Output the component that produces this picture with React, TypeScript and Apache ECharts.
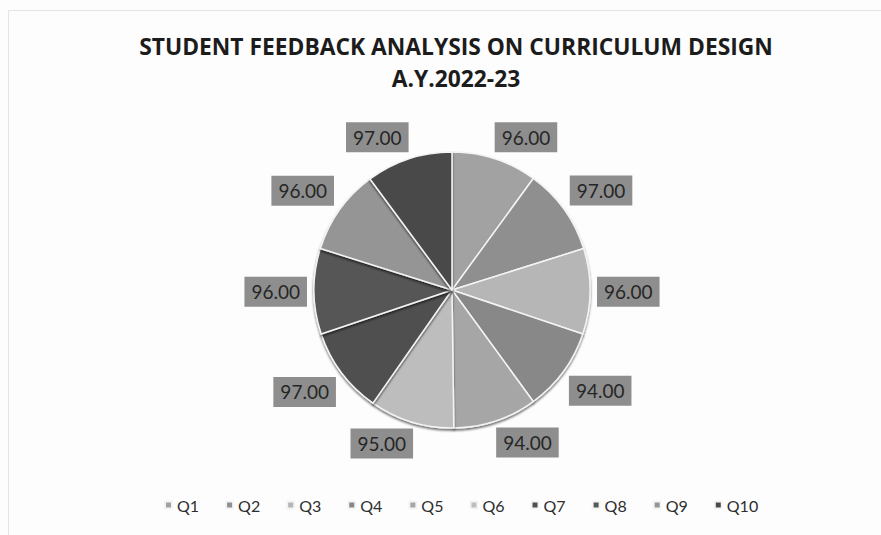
import { useEffect, useRef } from 'react';
import * as echarts from 'echarts';

const categories = ['Q1', 'Q2', 'Q3', 'Q4', 'Q5', 'Q6', 'Q7', 'Q8', 'Q9', 'Q10'];
const values = [96, 97, 96, 94, 94, 95, 97, 96, 96, 97];
const colors = ['#a2a2a2', '#8f8f8f', '#b6b6b6', '#888888', '#a6a6a6', '#bdbdbd', '#4f4f4f', '#575757', '#959595', '#4a4a4a'];
const titleLines = ['STUDENT FEEDBACK ANALYSIS ON CURRICULUM DESIGN', 'A.Y.2022-23'];

const CX = 452;
const CY = 290;
const R = 138;
const FONT = 'Lato, "Open Sans", sans-serif';
const TITLE_FONT = '"Open Sans", Lato, sans-serif';

export default function App() {
  const ref = useRef<HTMLDivElement>(null);
  useEffect(() => {
    if (!ref.current) return;
    const chart = echarts.init(ref.current, null, { renderer: 'svg' });
    const total = values.reduce((a, b) => a + b, 0);
    const mids: number[] = [];
    let acc = 0;
    values.forEach((v) => {
      mids.push(((acc + v / 2) / total) * 2 * Math.PI);
      acc += v;
    });
    const clamp = (v: number) => Math.max(-1, Math.min(1, v));
    chart.setOption({
      animation: false,
      backgroundColor: '#fdfdfd',
      color: colors,
      title: {
        text: titleLines.join('\n'),
        left: 451,
        textAlign: 'center',
        top: 25,
        textStyle: {
          fontFamily: TITLE_FONT,
          fontSize: 22.8,
          fontWeight: 'bold',
          color: '#1c1c1c',
          lineHeight: 32,
        },
      },
      legend: {
        data: categories,
        left: 159,
        top: 492,
        icon: 'rect',
        itemWidth: 7,
        itemHeight: 7,
        itemGap: 26,
        textStyle: { fontFamily: FONT, fontSize: 16, color: '#2e2e2e' },
      },
      graphic: [
        {
          type: 'rect',
          shape: { x: 8.5, y: 10.5, width: 880, height: 530 },
          style: { fill: 'none', stroke: '#e6e2ea', lineWidth: 1 },
          silent: true,
        },
      ],
      series: [
        {
          type: 'pie',
          center: [CX, CY],
          radius: R,
          startAngle: 90,
          clockwise: true,
          data: categories.map((c, i) => ({ name: c, value: values[i] })),
          itemStyle: {
            borderColor: '#f4f4f4',
            borderWidth: 1.5,
            shadowColor: 'rgba(0,0,0,0.55)',
            shadowBlur: 2,
            shadowOffsetY: 2,
          },
          emphasis: { disabled: true },
          labelLine: { show: false },
          label: {
            show: true,
            position: 'outside',
            formatter: (p: any) => Number(p.value).toFixed(2),
            fontFamily: FONT,
            fontSize: 19,
            color: '#262626',
            backgroundColor: '#8e8e8e',
            padding: [6, 7, 5, 7],
          },
          labelLayout: (params: any) => {
            const th = mids[params.dataIndex];
            const ux = Math.sin(th);
            const uy = -Math.cos(th);
            const ax = CX + ux * (R + 7);
            const ay = CY + uy * (R + 7);
            const w = params.labelRect.width;
            const h = params.labelRect.height;
            return {
              x: ax + (w / 2) * clamp(3 * ux),
              y: ay + (h / 2) * clamp(3 * uy),
              align: 'center',
              verticalAlign: 'middle',
            };
          },
        },
      ],
    });
    return () => chart.dispose();
  }, []);
  return <div ref={ref} style={{ position: 'fixed', left: 0, top: 0, width: 881, height: 535 }} />;
}
